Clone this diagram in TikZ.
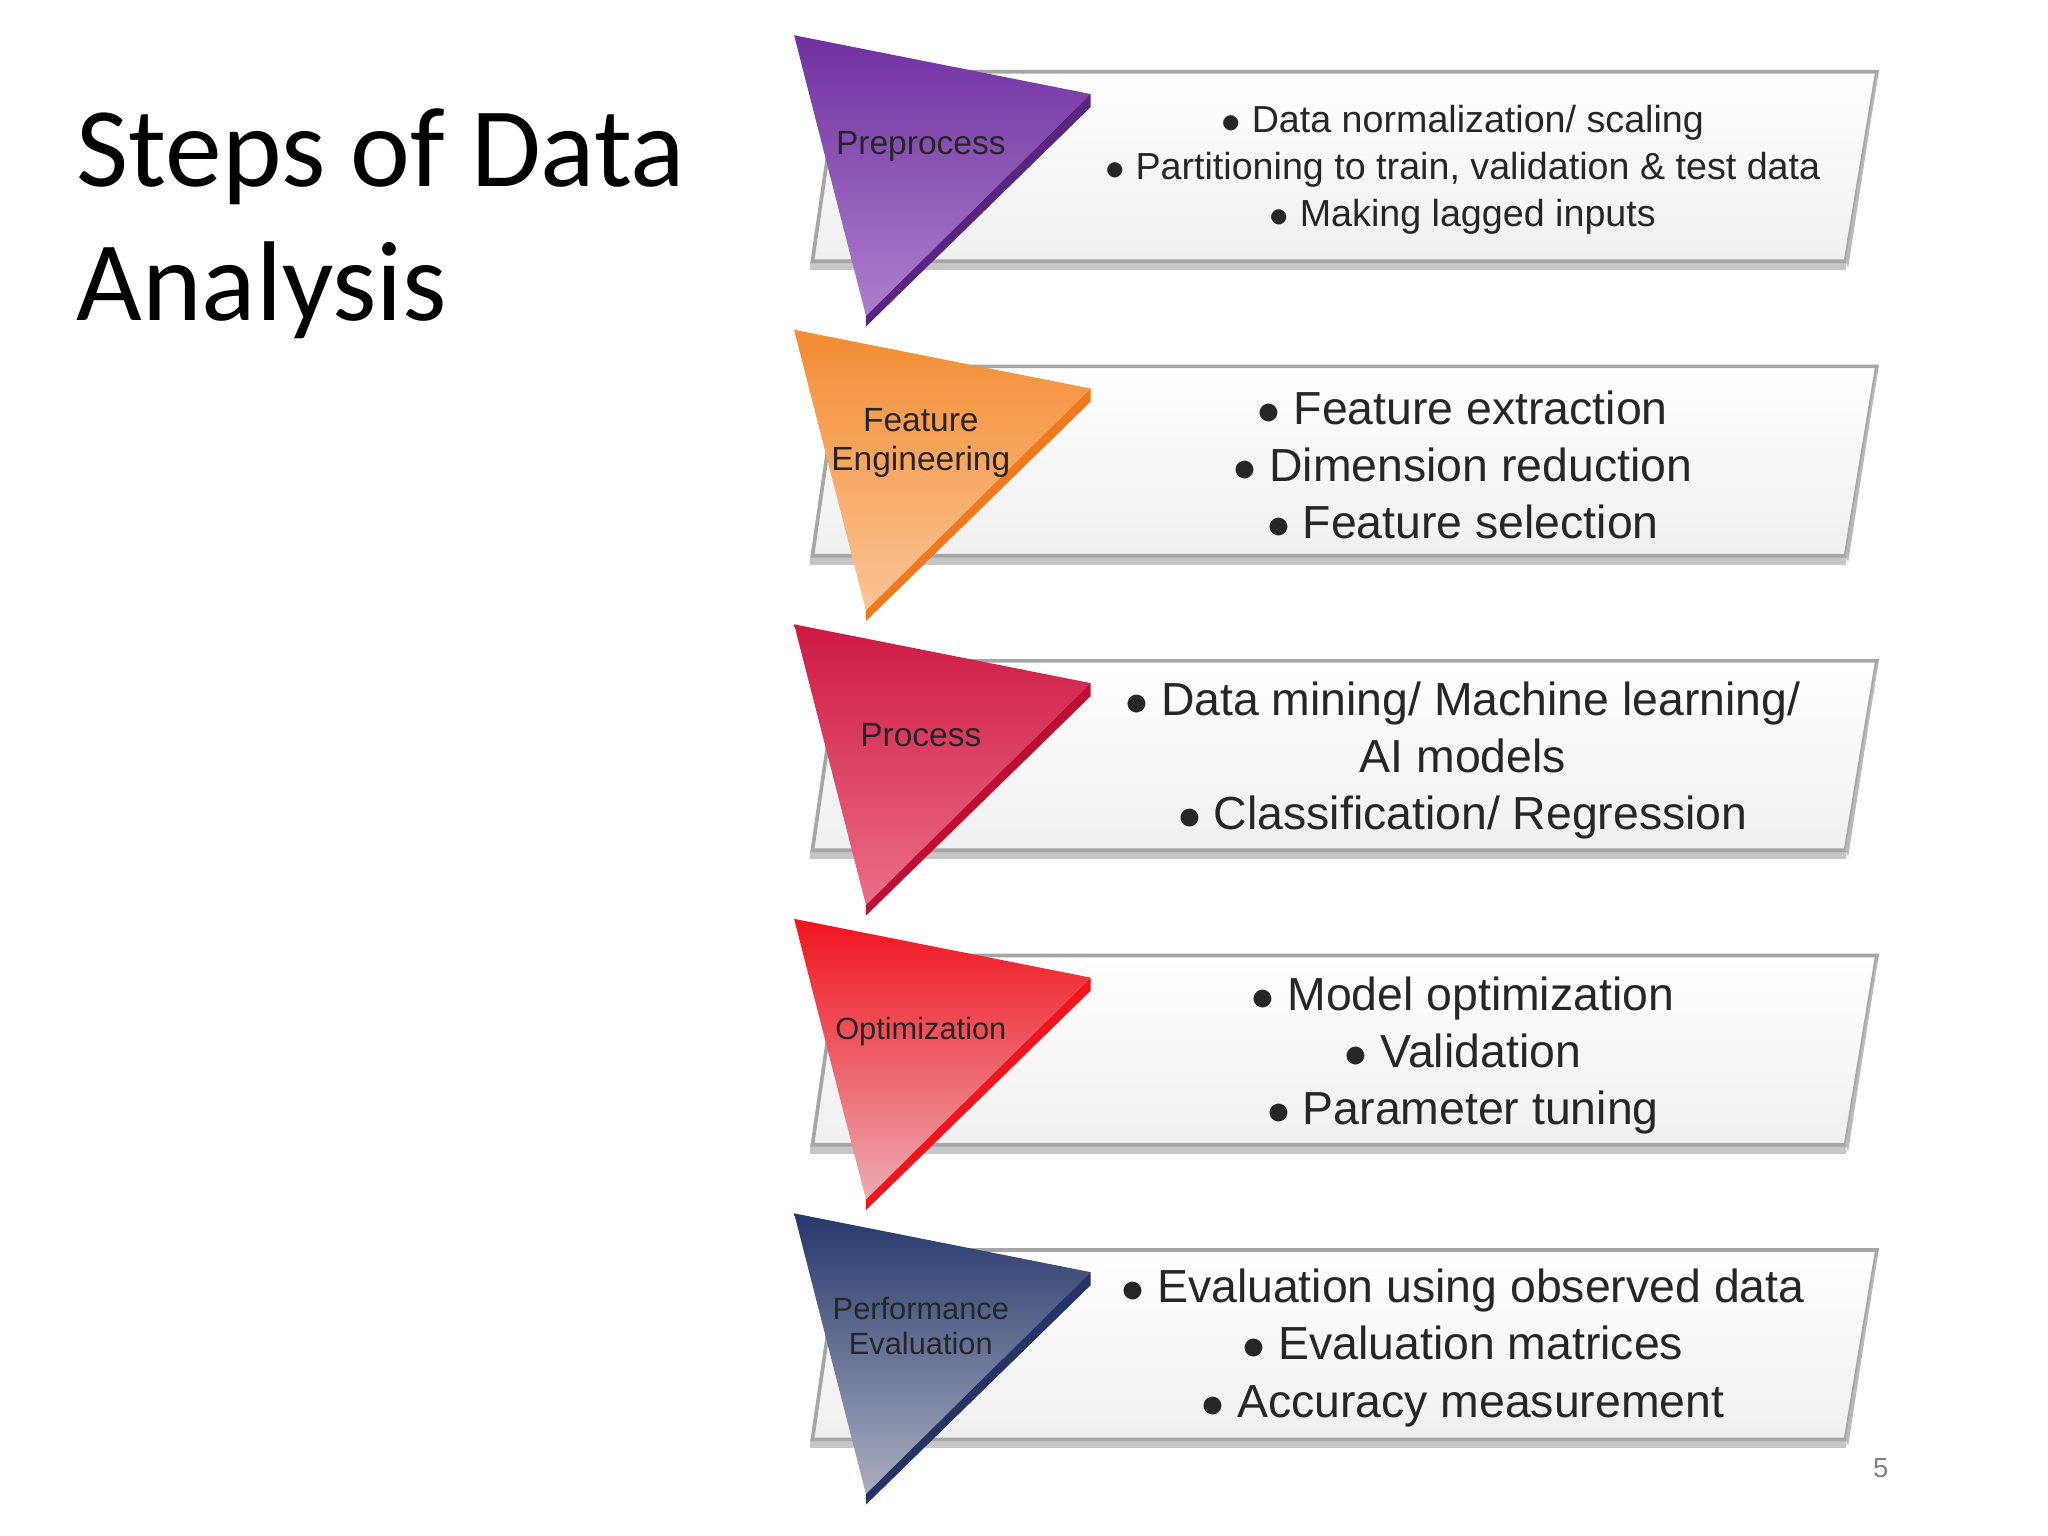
\documentclass[tikz,border=0pt]{standalone}
\usepackage{fontspec}
\setmainfont{Liberation Sans}
\newfontfamily\titlefont{Carlito}
\definecolor{a1}{RGB}{112,48,160}\definecolor{b1}{RGB}{172,128,204}\definecolor{c1}{RGB}{90,36,130}
\definecolor{a2}{RGB}{243,140,50}\definecolor{b2}{RGB}{251,196,150}\definecolor{c2}{RGB}{240,120,30}
\definecolor{a3}{RGB}{205,25,65}\definecolor{b3}{RGB}{236,110,138}\definecolor{c3}{RGB}{190,15,50}
\definecolor{a4}{RGB}{240,20,30}\definecolor{b4}{RGB}{236,172,178}\definecolor{c4}{RGB}{240,20,30}
\definecolor{a5}{RGB}{38,56,106}\definecolor{b5}{RGB}{170,174,192}\definecolor{c5}{RGB}{36,52,100}
\begin{document}
\begin{tikzpicture}[x=0.01cm,y=-0.01cm,
  item/.style={align=center,text=black!85,inner sep=0pt},
  tlabel/.style={align=center,text=black!85,inner sep=0pt}]
\useasboundingbox (0,0) rectangle (1568,1176);
\fill[white] (0,0) rectangle (1568,1176);
\node[anchor=west,inner sep=0pt,font=\titlefont\fontsize{24.7}{30}\selectfont] (t1) at (58,120) {Steps of Data};
\node[anchor=west,inner sep=0pt,font=\titlefont\fontsize{24.7}{30}\selectfont] (t2) at (58,222) {Analysis};
\foreach \i/\dy in {1/0,2/225.5,3/451,4/676.5,5/902}{
  \begin{scope}[yshift=-\dy*0.01cm]
  \fill[gray!45] (620,200) -- (1413,200) -- (1413,207) -- (620,207) -- cycle;
  \shade[top color=white,bottom color=gray!12,draw=gray!70,line width=0.8pt]
     (643,55) -- (1437,55) -- (1413,200) -- (622,200) -- cycle;
  \fill[gray!55] (1437,55) -- (1437,62) -- (1415,205) -- (1413,200) -- cycle;
  \shade[top color=a\i,bottom color=b\i] (608,27) -- (835,72) -- (663,242) -- cycle;
  \fill[c\i] (835,72) -- (835,82) -- (663,250) -- (663,242) -- cycle;
  \end{scope}}
\node[tlabel,font=\fontsize{7.3}{9}\selectfont] (l1) at (705,112) {Preprocess};
\node[item,font=\fontsize{8.2}{10.3}\selectfont] (p1) at (1120,130) {$\bullet$ Data normalization/ scaling\\ $\bullet$ Partitioning to train, validation \& test data\\ $\bullet$ Making lagged inputs};
\node[tlabel,font=\fontsize{7.3}{8.6}\selectfont] (l2) at (705,339) {Feature\\Engineering};
\node[item,font=\fontsize{10.1}{12.4}\selectfont] (p2) at (1120,356) {$\bullet$ Feature extraction\\ $\bullet$ Dimension reduction\\ $\bullet$ Feature selection};
\node[tlabel,font=\fontsize{7.3}{9}\selectfont] (l3) at (705,563) {Process};
\node[item,font=\fontsize{10.1}{12.4}\selectfont] (p3) at (1120,582) {$\bullet$ Data mining/ Machine learning/\\ AI models\\ $\bullet$ Classification/ Regression};
\node[tlabel,font=\fontsize{6.7}{8}\selectfont] (l4) at (705,790) {Optimization};
\node[item,font=\fontsize{10.1}{12.4}\selectfont] (p4) at (1120,808) {$\bullet$ Model optimization\\ $\bullet$ Validation\\ $\bullet$ Parameter tuning};
\node[tlabel,font=\fontsize{6.7}{7.6}\selectfont] (l5) at (705,1015) {Performance\\Evaluation};
\node[item,font=\fontsize{10.1}{12.6}\selectfont] (p5) at (1120,1032) {$\bullet$ Evaluation using observed data\\ $\bullet$ Evaluation matrices\\ $\bullet$ Accuracy measurement};
\node[inner sep=0pt,text=gray,font=\fontsize{6}{7}\selectfont] (pg) at (1440,1124) {5};
\end{tikzpicture}
\end{document}
